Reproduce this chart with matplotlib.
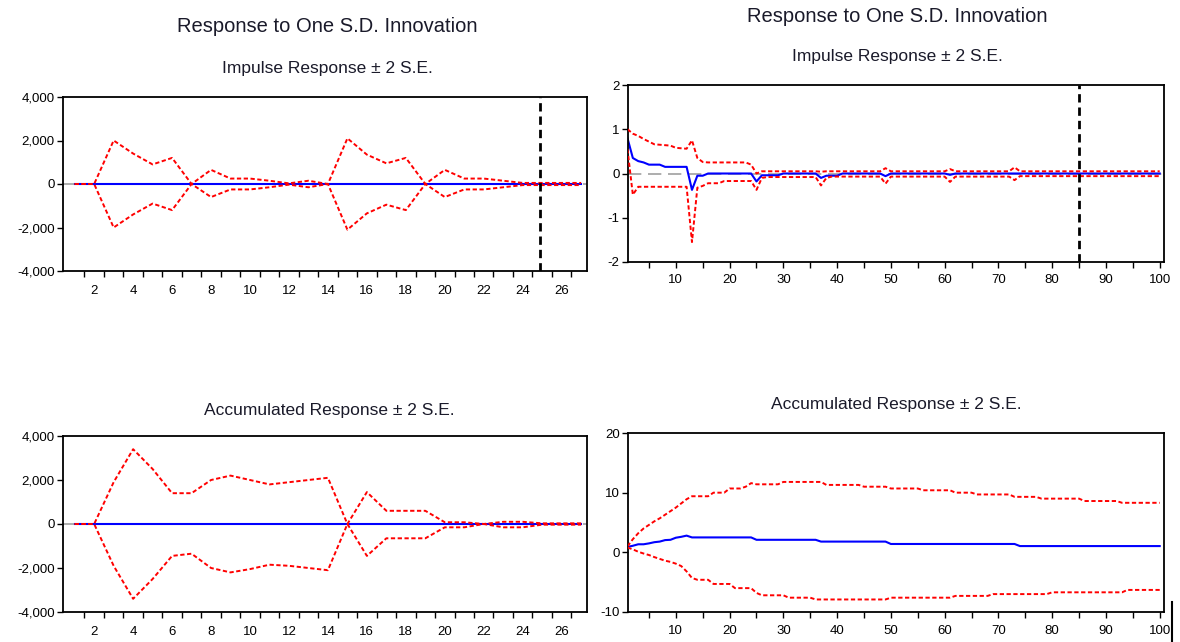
import matplotlib
matplotlib.use("Agg")

import matplotlib.pyplot as plt
from matplotlib.lines import Line2D
from matplotlib.ticker import FuncFormatter

plt.rcParams["font.family"] = ["Liberation Sans", "DejaVu Sans"]

# ---------------------------------------------------------------------------
# Data
# ---------------------------------------------------------------------------
# left column: 27 periods
periods_27 = list(range(1, 28))
tl_resp = [0] * 27
tl_upper = [0, 0, 2000, 1400, 900, 1200, 0, 650, 250, 250, 150, 30, 150, 0,
            2100, 1350, 950, 1200, 0, 650, 250, 250, 150, 50, 50, 50, 50]
tl_lower = [0, 0, -2000, -1400, -900, -1200, 0, -600, -250, -250, -150, -30, -150, 0,
            -2100, -1350, -950, -1200, 0, -600, -250, -250, -150, -50, -50, -50, -50]

bl_resp = [0] * 27
bl_upper = [0, 0, 1900, 3400, 2500, 1400, 1400, 2000, 2200, 2000, 1800, 1900, 2000, 2100,
            0, 1450, 600, 600, 600, 80, 80, 0, 100, 100, 30, 30, 30]
bl_lower = [0, 0, -1900, -3400, -2500, -1450, -1350, -2000, -2200, -2050, -1850, -1900, -2000, -2100,
            0, -1450, -650, -650, -650, -150, -150, 0, -150, -150, -30, -30, -30]

# right column: 100 periods
periods_100 = list(range(1, 101))
tr_resp = [
    0.80, 0.35, 0.28, 0.25, 0.20, 0.20, 0.20, 0.15, 0.15, 0.15,
    0.15, 0.15, -0.37, -0.05, -0.05, 0.00, 0.00, 0.00, 0.00, 0.00,
    0.00, 0.00, 0.00, 0.00, -0.18, -0.04, -0.04, -0.04, -0.04, 0.00,
    0.00, 0.00, 0.00, 0.00, 0.00, 0.00, -0.10, -0.05, -0.05, -0.05,
    0.00, 0.00, 0.00, 0.00, 0.00, 0.00, 0.00, 0.00, -0.06, 0.00,
    0.00, 0.00, 0.00, 0.00, 0.00, 0.00, 0.00, 0.00, 0.00, 0.00,
    -0.03, 0.00, 0.00, 0.00, 0.00, 0.00, 0.00, 0.00, 0.00, 0.00,
    0.00, 0.00, 0.00, 0.00, 0.00, 0.00, 0.00, 0.00, 0.00, 0.00,
    0.00, 0.00, 0.00, 0.00, 0.00, 0.00, 0.00, 0.00, 0.00, 0.00,
    0.00, 0.00, 0.00, 0.00, 0.00, 0.00, 0.00, 0.00, 0.00, 0.00,
]
tr_upper = [
    1.00, 0.90, 0.85, 0.78, 0.72, 0.66, 0.65, 0.64, 0.63, 0.58,
    0.57, 0.56, 0.75, 0.35, 0.26, 0.25, 0.25, 0.25, 0.25, 0.25,
    0.25, 0.25, 0.25, 0.20, 0.00, 0.05, 0.05, 0.05, 0.05, 0.05,
    0.05, 0.05, 0.05, 0.05, 0.05, 0.05, 0.04, 0.05, 0.05, 0.05,
    0.05, 0.05, 0.05, 0.05, 0.05, 0.05, 0.05, 0.05, 0.12, 0.05,
    0.05, 0.05, 0.05, 0.05, 0.05, 0.05, 0.05, 0.05, 0.05, 0.05,
    0.10, 0.05, 0.05, 0.05, 0.05, 0.05, 0.05, 0.05, 0.05, 0.05,
    0.05, 0.05, 0.14, 0.05, 0.05, 0.05, 0.05, 0.05, 0.05, 0.05,
    0.05, 0.05, 0.05, 0.05, 0.05, 0.05, 0.05, 0.05, 0.05, 0.05,
    0.05, 0.05, 0.05, 0.05, 0.05, 0.05, 0.05, 0.05, 0.05, 0.05,
]
tr_lower = [
    0.55, -0.48, -0.30, -0.30, -0.30, -0.30, -0.30, -0.30, -0.30, -0.30,
    -0.30, -0.30, -1.55, -0.32, -0.28, -0.22, -0.22, -0.22, -0.17, -0.17,
    -0.17, -0.17, -0.17, -0.17, -0.37, -0.10, -0.08, -0.08, -0.08, -0.08,
    -0.08, -0.08, -0.08, -0.08, -0.08, -0.08, -0.27, -0.10, -0.07, -0.07,
    -0.07, -0.07, -0.07, -0.07, -0.07, -0.07, -0.07, -0.07, -0.23, -0.07,
    -0.07, -0.07, -0.07, -0.07, -0.07, -0.07, -0.07, -0.07, -0.07, -0.07,
    -0.19, -0.07, -0.07, -0.07, -0.07, -0.07, -0.07, -0.07, -0.07, -0.07,
    -0.07, -0.07, -0.15, -0.06, -0.06, -0.06, -0.06, -0.06, -0.06, -0.06,
    -0.06, -0.06, -0.06, -0.06, -0.06, -0.06, -0.06, -0.06, -0.06, -0.06,
    -0.06, -0.06, -0.06, -0.06, -0.06, -0.06, -0.06, -0.06, -0.06, -0.06,
]

br_resp = [
    0.90, 1.10, 1.35, 1.35, 1.50, 1.70, 1.80, 2.05, 2.10, 2.45,
    2.60, 2.80, 2.50, 2.50, 2.50, 2.50, 2.50, 2.50, 2.50, 2.50,
    2.50, 2.50, 2.50, 2.50, 2.10, 2.10, 2.10, 2.10, 2.10, 2.10,
    2.10, 2.10, 2.10, 2.10, 2.10, 2.10, 1.80, 1.80, 1.80, 1.80,
    1.80, 1.80, 1.80, 1.80, 1.80, 1.80, 1.80, 1.80, 1.80, 1.40,
    1.40, 1.40, 1.40, 1.40, 1.40, 1.40, 1.40, 1.40, 1.40, 1.40,
    1.40, 1.40, 1.40, 1.40, 1.40, 1.40, 1.40, 1.40, 1.40, 1.40,
    1.40, 1.40, 1.40, 1.05, 1.05, 1.05, 1.05, 1.05, 1.05, 1.05,
    1.05, 1.05, 1.05, 1.05, 1.05, 1.05, 1.05, 1.05, 1.05, 1.05,
    1.05, 1.05, 1.05, 1.05, 1.05, 1.05, 1.05, 1.05, 1.05, 1.05,
]
br_upper = [
    1.0, 2.2, 3.2, 4.0, 4.6, 5.2, 5.7, 6.3, 6.9, 7.5,
    8.2, 8.9, 9.4, 9.4, 9.4, 9.4, 10.0, 10.0, 10.0, 10.7,
    10.7, 10.7, 11.0, 11.6, 11.4, 11.4, 11.4, 11.4, 11.4, 11.8,
    11.8, 11.8, 11.8, 11.8, 11.8, 11.8, 11.8, 11.3, 11.3, 11.3,
    11.3, 11.3, 11.3, 11.3, 11.0, 11.0, 11.0, 11.0, 11.0, 10.7,
    10.7, 10.7, 10.7, 10.7, 10.7, 10.4, 10.4, 10.4, 10.4, 10.4,
    10.4, 10.0, 10.0, 10.0, 10.0, 9.7, 9.7, 9.7, 9.7, 9.7,
    9.7, 9.7, 9.3, 9.3, 9.3, 9.3, 9.3, 9.0, 9.0, 9.0,
    9.0, 9.0, 9.0, 9.0, 9.0, 8.6, 8.6, 8.6, 8.6, 8.6,
    8.6, 8.6, 8.3, 8.3, 8.3, 8.3, 8.3, 8.3, 8.3, 8.3,
]
br_lower = [
    0.8, 0.5, 0.1, -0.2, -0.45, -0.8, -1.1, -1.4, -1.6, -1.9,
    -2.3, -3.2, -4.3, -4.6, -4.6, -4.6, -5.3, -5.3, -5.3, -5.3,
    -6.0, -6.0, -6.0, -6.0, -6.8, -7.2, -7.2, -7.2, -7.2, -7.2,
    -7.6, -7.6, -7.6, -7.6, -7.6, -7.9, -7.9, -7.9, -7.9, -7.9,
    -7.9, -7.9, -7.9, -7.9, -7.9, -7.9, -7.9, -7.9, -7.9, -7.6,
    -7.6, -7.6, -7.6, -7.6, -7.6, -7.6, -7.6, -7.6, -7.6, -7.6,
    -7.6, -7.3, -7.3, -7.3, -7.3, -7.3, -7.3, -7.3, -7.0, -7.0,
    -7.0, -7.0, -7.0, -7.0, -7.0, -7.0, -7.0, -7.0, -7.0, -6.7,
    -6.7, -6.7, -6.7, -6.7, -6.7, -6.7, -6.7, -6.7, -6.7, -6.7,
    -6.7, -6.7, -6.7, -6.3, -6.3, -6.3, -6.3, -6.3, -6.3, -6.3,
]

# ---------------------------------------------------------------------------
# Styling
# ---------------------------------------------------------------------------
COLOR_RESP = "#0000ff"
COLOR_BAND = "#ff0000"
COLOR_ZERO = "#a0a0a0"
W, H = 1180, 642
TICK_FS = 9.5


def px_axes(fig, left, right, top, bottom):
    # axes placed by pixel box of the reference image
    return fig.add_axes([left / W, 1 - bottom / H, (right - left) / W, (bottom - top) / H])


def fmt_thousands(v, _pos):
    s = f"{abs(v):,.0f}"
    return "-" + s if v < 0 else s


def fmt_plain(v, _pos):
    return f"{v:.0f}".replace("\u2212", "-")


def draw_panel(ax, x, resp, upper, lower, zero_line=True):
    if zero_line:
        ax.axhline(0, color=COLOR_ZERO, lw=1.2, dashes=(8, 4), zorder=1)
    ax.plot(x, resp, color=COLOR_RESP, lw=1.5, zorder=2)
    ax.plot(x, upper, color=COLOR_BAND, lw=1.4, dashes=(2.2, 1.3), zorder=3)
    ax.plot(x, lower, color=COLOR_BAND, lw=1.4, dashes=(2.2, 1.3), zorder=3)
    for s in ax.spines.values():
        s.set_linewidth(1.3)
    ax.tick_params(axis="y", direction="out", length=4, width=1, labelsize=TICK_FS, pad=2)


def style_short_x(ax):
    # labels centred on even periods, tick marks on period boundaries
    ax.set_xlim(0.4, 27.3)
    ax.set_xticks(range(2, 27, 2))
    ax.set_xticks([k + 0.5 for k in range(1, 27)], minor=True)
    ax.tick_params(axis="x", which="major", length=0, labelsize=TICK_FS, pad=10)
    ax.tick_params(axis="x", which="minor", direction="out", length=4, width=1)
    ax.set_ylim(-4000, 4000)
    ax.set_yticks([-4000, -2000, 0, 2000, 4000])
    ax.yaxis.set_major_formatter(FuncFormatter(fmt_thousands))


def style_long_x(ax):
    ax.set_xlim(1.1, 100.8)
    ax.set_xticks(range(10, 101, 10))
    ax.set_xticks(range(5, 100, 10), minor=True)
    ax.tick_params(axis="x", which="both", direction="out", length=4, width=1,
                   labelsize=TICK_FS, pad=5)
    ax.yaxis.set_major_formatter(FuncFormatter(fmt_plain))


fig = plt.figure(figsize=(W / 100, H / 100), dpi=100)

# top-left
ax_tl = px_axes(fig, 63, 587, 97, 271)
draw_panel(ax_tl, periods_27, tl_resp, tl_upper, tl_lower)
style_short_x(ax_tl)
ax_tl.axvline(24.9, color="black", lw=2, dashes=(3, 1.8), zorder=4)

# top-right
ax_tr = px_axes(fig, 628, 1164, 85, 262)
draw_panel(ax_tr, periods_100, tr_resp, tr_upper, tr_lower)
style_long_x(ax_tr)
ax_tr.set_ylim(-2, 2)
ax_tr.set_yticks([-2, -1, 0, 1, 2])
ax_tr.axvline(85, color="black", lw=2, dashes=(3, 1.8), zorder=4)

# bottom-left
ax_bl = px_axes(fig, 63, 587, 436, 612)
draw_panel(ax_bl, periods_27, bl_resp, bl_upper, bl_lower)
style_short_x(ax_bl)

# bottom-right
ax_br = px_axes(fig, 628, 1164, 433, 612)
draw_panel(ax_br, periods_100, br_resp, br_upper, br_lower, zero_line=False)
style_long_x(ax_br)
ax_br.set_ylim(-10, 20)
ax_br.set_yticks([-10, 0, 10, 20])


# titles
def ftext(x, y, s, size):
    fig.text(x / W, 1 - y / H, s, ha="center", va="center", fontsize=size, color="#1a1a2a")


ftext(327, 27, "Response to One S.D. Innovation", 14.5)
ftext(327, 69, "Impulse Response \u00b1 2 S.E.", 12.5)
ftext(897, 16, "Response to One S.D. Innovation", 14.5)
ftext(897, 56, "Impulse Response \u00b1 2 S.E.", 12.5)
ftext(329, 411, "Accumulated Response \u00b1 2 S.E.", 12.5)
ftext(896, 404, "Accumulated Response \u00b1 2 S.E.", 12.5)

# stray border line at the bottom right of the screenshot
fig.add_artist(Line2D([1172 / W, 1172 / W], [0, 1 - 602 / H], color="black", lw=1.5))

fig.savefig("out.png", dpi=100)
